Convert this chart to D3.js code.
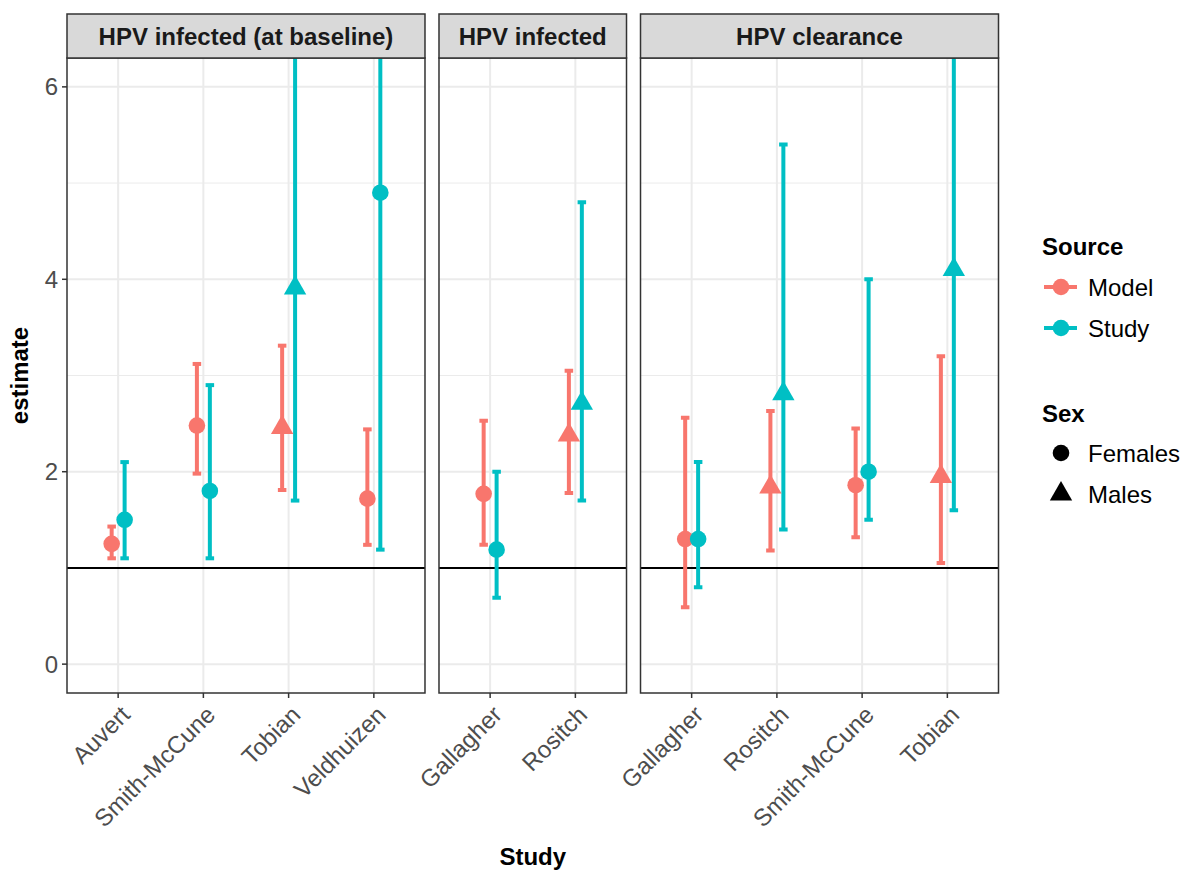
<!DOCTYPE html>
<html>
<head>
<meta charset="utf-8">
<script src="https://cdn.jsdelivr.net/npm/d3@7"></script>
<style>
  body { margin: 0; background: #fff; }
  text { font-family: "Liberation Sans", Arial, sans-serif; }
</style>
</head>
<body>
<div id="chart"></div>
<script>
// facets, studies and estimates
var facetNames = ["HPV infected (at baseline)", "HPV infected", "HPV clearance"];
var facetStudies = [
  ["Auvert", "Smith-McCune", "Tobian", "Veldhuizen"],
  ["Gallagher", "Rositch"],
  ["Gallagher", "Rositch", "Smith-McCune", "Tobian"]
];
var facetSex = [
  ["Females", "Females", "Males", "Females"],
  ["Females", "Males"],
  ["Females", "Males", "Females", "Males"]
];
var modelEst = [[1.25, 2.48, 2.46, 1.72], [1.77, 2.38], [1.30, 1.84, 1.86, 1.95]];
var modelLo  = [[1.10, 1.98, 1.81, 1.24], [1.24, 1.78], [0.59, 1.18, 1.32, 1.05]];
var modelHi  = [[1.43, 3.12, 3.31, 2.44], [2.53, 3.05], [2.56, 2.63, 2.45, 3.20]];
var studyEst = [[1.50, 1.80, 3.91, 4.90], [1.19, 2.71], [1.30, 2.81, 2.00, 4.10]];
var studyLo  = [[1.10, 1.10, 1.70, 1.19], [0.69, 1.70], [0.80, 1.40, 1.50, 1.60]];
var studyHi  = [[2.10, 2.90, 8.00, 12.0], [2.00, 4.80], [2.10, 5.40, 4.00, 7.50]];
var yTicks = [0, 2, 4, 6];
var yMinor = [1, 3, 5];
var sources = ["Model", "Study"];
var sexes = ["Females", "Males"];
var refLine = 1;

var svgWidth = 1184, svgHeight = 872;
var panelLeft = 67, panelRight = 998.5, panelTop = 58, panelBottom = 693;
var stripTop = 14, gap = 14;
var fs = 24;

var colour = d3.scaleOrdinal().domain(sources).range(["#F8766D", "#00BFC4"]);

var svg = d3.select("#chart").append("svg")
    .attr("width", svgWidth)
    .attr("height", svgHeight);

var y = d3.scaleLinear().domain([-0.3, 6.3]).range([panelBottom, panelTop]);

// free x space: each panel gets (n - 1 + 1.2) units
var units = facetStudies.map(function(s) { return s.length - 1 + 1.2; });
var unitPx = (panelRight - panelLeft - gap * (facetStudies.length - 1)) / d3.sum(units);

// triangle like R pch 17
function triangle(R) {
  var r = 1.555 * R, xc = 1.347 * R, yc = 0.778 * R;
  return "M0," + (-r) + "L" + xc + "," + yc + "L" + (-xc) + "," + yc + "Z";
}
var ptR = 8.3;

var x0 = panelLeft;
facetStudies.forEach(function(studies, f) {
  var w = units[f] * unitPx;
  var x = d3.scalePoint().domain(studies).range([x0, x0 + w]).padding(0.6);
  var step = x.step();
  var dodge = 0.076 * step, cap = 0.05 * step;

  var g = svg.append("g");
  g.append("clipPath").attr("id", "clip" + f)
    .append("rect").attr("x", x0).attr("y", panelTop).attr("width", w).attr("height", panelBottom - panelTop);

  // background grid
  g.append("rect").attr("x", x0).attr("y", panelTop).attr("width", w).attr("height", panelBottom - panelTop)
    .attr("fill", "#fff");
  g.selectAll(".minor").data(yMinor).enter().append("line")
    .attr("x1", x0).attr("x2", x0 + w)
    .attr("y1", function(d) { return y(d); }).attr("y2", function(d) { return y(d); })
    .attr("stroke", "#EBEBEB").attr("stroke-width", 1);
  g.selectAll(".major").data(yTicks).enter().append("line")
    .attr("x1", x0).attr("x2", x0 + w)
    .attr("y1", function(d) { return y(d); }).attr("y2", function(d) { return y(d); })
    .attr("stroke", "#EBEBEB").attr("stroke-width", 2);
  g.selectAll(".vgrid").data(studies).enter().append("line")
    .attr("x1", function(d) { return x(d); }).attr("x2", function(d) { return x(d); })
    .attr("y1", panelTop).attr("y2", panelBottom)
    .attr("stroke", "#EBEBEB").attr("stroke-width", 2);

  // reference line
  g.append("line").attr("x1", x0).attr("x2", x0 + w)
    .attr("y1", y(refLine)).attr("y2", y(refLine))
    .attr("stroke", "#000").attr("stroke-width", 2);

  // rows for this facet
  var rows = [];
  studies.forEach(function(s, i) {
    rows.push({study: s, src: "Model", sex: facetSex[f][i], est: modelEst[f][i], lo: modelLo[f][i], hi: modelHi[f][i], off: -dodge});
    rows.push({study: s, src: "Study", sex: facetSex[f][i], est: studyEst[f][i], lo: studyLo[f][i], hi: studyHi[f][i], off: dodge});
  });

  var marks = g.append("g").attr("clip-path", "url(#clip" + f + ")");
  var eb = marks.selectAll(".eb").data(rows).enter().append("g")
    .attr("stroke", function(d) { return colour(d.src); })
    .attr("stroke-width", 4);
  eb.append("line")
    .attr("x1", function(d) { return x(d.study) + d.off; })
    .attr("x2", function(d) { return x(d.study) + d.off; })
    .attr("y1", function(d) { return y(d.lo); })
    .attr("y2", function(d) { return y(d.hi); });
  eb.append("line")
    .attr("x1", function(d) { return x(d.study) + d.off - cap; })
    .attr("x2", function(d) { return x(d.study) + d.off + cap; })
    .attr("y1", function(d) { return y(d.lo); })
    .attr("y2", function(d) { return y(d.lo); });
  eb.append("line")
    .attr("x1", function(d) { return x(d.study) + d.off - cap; })
    .attr("x2", function(d) { return x(d.study) + d.off + cap; })
    .attr("y1", function(d) { return y(d.hi); })
    .attr("y2", function(d) { return y(d.hi); });

  marks.selectAll(".pt").data(rows).enter().append("path")
    .attr("transform", function(d) { return "translate(" + (x(d.study) + d.off) + "," + y(d.est) + ")"; })
    .attr("d", function(d) {
      return d.sex === "Males" ? triangle(ptR) : d3.symbol().type(d3.symbolCircle).size(Math.PI * ptR * ptR)();
    })
    .attr("fill", function(d) { return colour(d.src); });

  // panel border
  g.append("rect").attr("x", x0).attr("y", panelTop).attr("width", w).attr("height", panelBottom - panelTop)
    .attr("fill", "none").attr("stroke", "#333333").attr("stroke-width", 1.5);

  // strip
  g.append("rect").attr("x", x0).attr("y", stripTop).attr("width", w).attr("height", panelTop - stripTop)
    .attr("fill", "#D9D9D9").attr("stroke", "#333333").attr("stroke-width", 1.5);
  g.append("text").attr("x", x0 + w / 2).attr("y", (stripTop + panelTop) / 2 + 8.5)
    .attr("text-anchor", "middle").attr("font-size", fs).attr("font-weight", "bold")
    .attr("fill", "#1A1A1A").text(facetNames[f]);

  // x axis
  var xa = g.append("g").attr("transform", "translate(0," + panelBottom + ")");
  xa.selectAll("line").data(studies).enter().append("line")
    .attr("x1", function(d) { return x(d); }).attr("x2", function(d) { return x(d); })
    .attr("y1", 0).attr("y2", 5).attr("stroke", "#333333").attr("stroke-width", 1.5);
  xa.selectAll("text").data(studies).enter().append("text")
    .attr("transform", function(d) { return "translate(" + (x(d) + 1) + ",11) rotate(-45)"; })
    .attr("dy", "0.72em")
    .attr("text-anchor", "end").attr("font-size", fs).attr("fill", "#4D4D4D")
    .text(function(d) { return d; });

  x0 += w + gap;
});

// y axis
var ya = svg.append("g");
ya.selectAll("line").data(yTicks).enter().append("line")
  .attr("x1", panelLeft - 5).attr("x2", panelLeft)
  .attr("y1", function(d) { return y(d); }).attr("y2", function(d) { return y(d); })
  .attr("stroke", "#333333").attr("stroke-width", 1.5);
ya.selectAll("text").data(yTicks).enter().append("text")
  .attr("x", panelLeft - 9).attr("y", function(d) { return y(d) + 8.5; })
  .attr("text-anchor", "end").attr("font-size", fs).attr("fill", "#4D4D4D")
  .text(function(d) { return d; });

// axis titles
svg.append("text")
  .attr("transform", "translate(28," + ((panelTop + panelBottom) / 2) + ") rotate(-90)")
  .attr("text-anchor", "middle").attr("font-size", fs).attr("font-weight", "bold")
  .text("estimate");
svg.append("text")
  .attr("x", (panelLeft + panelRight) / 2).attr("y", 865)
  .attr("text-anchor", "middle").attr("font-size", fs).attr("font-weight", "bold")
  .text("Study");

// legends
var lg = svg.append("g").attr("transform", "translate(1042,0)");
lg.append("text").attr("x", 0).attr("y", 255).attr("font-size", fs).attr("font-weight", "bold").text("Source");
var srcKey = lg.selectAll(".src").data(sources).enter().append("g")
  .attr("transform", function(d, i) { return "translate(0," + (287 + i * 41) + ")"; });
srcKey.append("line").attr("x1", 2).attr("x2", 35).attr("y1", 0).attr("y2", 0)
  .attr("stroke", function(d) { return colour(d); }).attr("stroke-width", 4);
srcKey.append("circle").attr("cx", 19).attr("cy", 0).attr("r", ptR)
  .attr("fill", function(d) { return colour(d); });
srcKey.append("text").attr("x", 46).attr("y", 8.5).attr("font-size", fs).text(function(d) { return d; });

lg.append("text").attr("x", 0).attr("y", 422).attr("font-size", fs).attr("font-weight", "bold").text("Sex");
var sexKey = lg.selectAll(".sex").data(sexes).enter().append("g")
  .attr("transform", function(d, i) { return "translate(19," + (453 + i * 41) + ")"; });
sexKey.append("path")
  .attr("d", function(d) {
    return d === "Males" ? triangle(ptR) : d3.symbol().type(d3.symbolCircle).size(Math.PI * ptR * ptR)();
  })
  .attr("fill", "#000");
sexKey.append("text").attr("x", 27).attr("y", 8.5).attr("font-size", fs).text(function(d) { return d; });
</script>
</body>
</html>
